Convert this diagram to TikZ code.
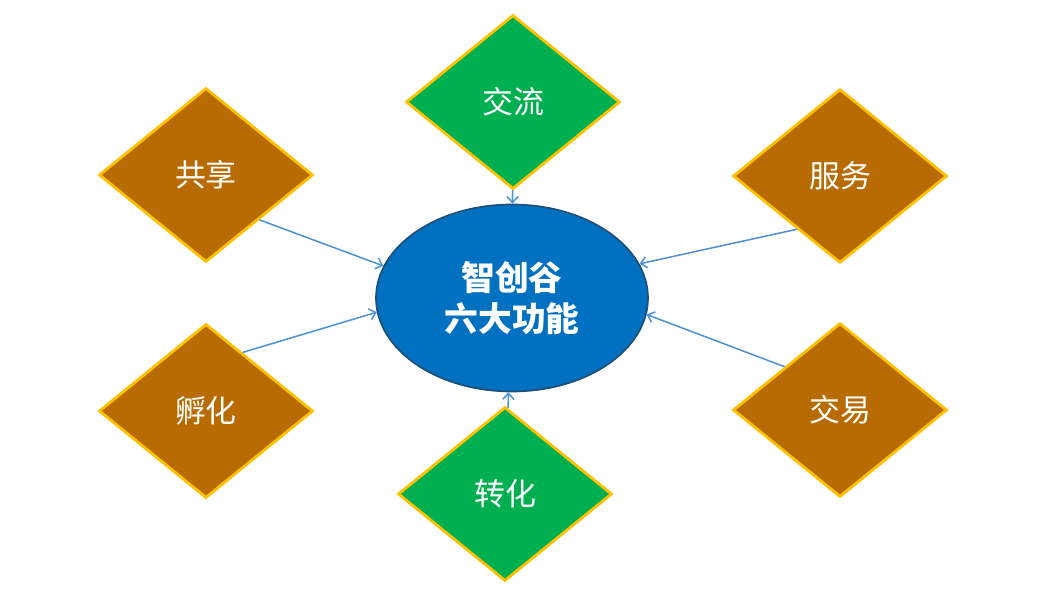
\documentclass[tikz,border=0pt]{standalone}
\usepackage{fontspec}
\usepackage{tikz}
\usetikzlibrary{arrows.meta,shapes.geometric}
\newfontfamily\cjk{Noto Sans CJK SC}
\definecolor{cgold}{RGB}{255,192,0}
\definecolor{cbrown}{RGB}{183,107,0}
\definecolor{cgreen}{RGB}{0,176,80}
\definecolor{cblue}{RGB}{0,112,192}
\definecolor{cdarkblue}{RGB}{31,78,121}
\definecolor{clink}{RGB}{80,146,210}

\begin{document}
\begin{tikzpicture}[->,>={Straight Barb[length=1.5mm,width=2.8mm]},node distance=4.9cm,
  hub node/.style={ellipse,fill=cblue,draw=cdarkblue,line width=1.2pt,minimum width=6.8cm,minimum height=4.675cm,
    align=center,text=white,font=\cjk\bfseries\fontsize{24}{29}\selectfont},
  brown node/.style={diamond,fill=cbrown,draw=cgold,line width=2pt,minimum width=5.35cm,minimum height=4.35cm,
    inner sep=0pt,text=white,font=\cjk\fontsize{22}{26}\selectfont},
  green node/.style={brown node,fill=cgreen}]
  \useasboundingbox (-12.8,-7.55) rectangle (13.325,7.45);

  \node[hub node] (zcg) {智创谷\\六大功能};
  \node[green node] (jl) [above of=zcg, xshift=0.025cm] {交流};
  \node[green node] (zh) [below of=zcg, xshift=-0.175cm] {转化};
  \node[brown node] (gx) [left of=zcg, xshift=-2.75cm, yshift=3.075cm] {共享};
  \node[brown node] (fh) [left of=zcg, xshift=-2.75cm, yshift=-2.825cm] {孵化};
  \node[brown node] (fw) [right of=zcg, xshift=3.3cm, yshift=3.05cm] {服务};
  \node[brown node] (jy) [right of=zcg, xshift=3.3cm, yshift=-2.8cm] {交易};

  \path[every edge/.style={draw=clink,line width=1.1pt}]
    (jl) edge (zcg)
    (zh) edge (zcg)
    (gx.-40) edge (zcg.166)
    (fh.58) edge (zcg.186)
    (fw.231) edge (zcg.15)
    (jy.142) edge (zcg.-7);
\end{tikzpicture}
\end{document}
